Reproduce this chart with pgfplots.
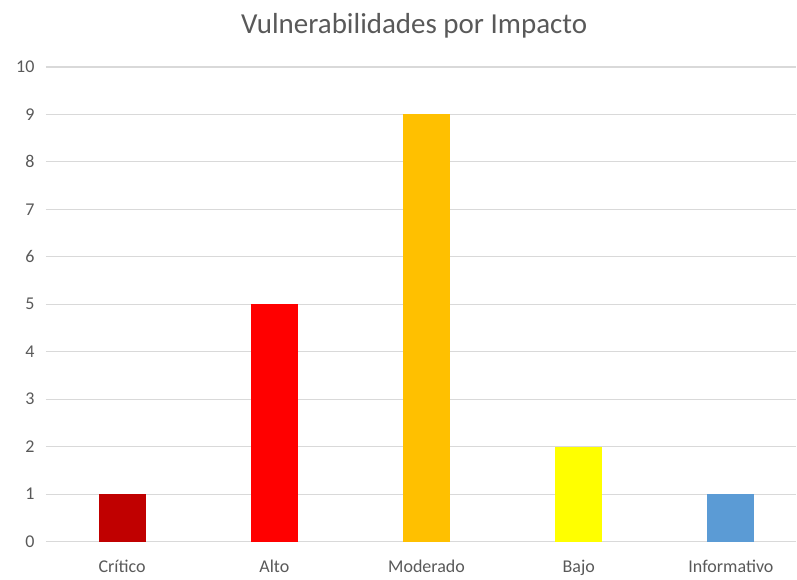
\documentclass[border=0pt]{standalone}
\usepackage{pgfplots}
\pgfplotsset{compat=1.18}
\usepackage{fontspec}
\setmainfont{Carlito}
\definecolor{txt}{HTML}{595959}
\definecolor{gridc}{HTML}{D9D9D9}
\definecolor{c1}{HTML}{C00000}
\definecolor{c2}{HTML}{FF0000}
\definecolor{c3}{HTML}{FFC000}
\definecolor{c4}{HTML}{FFFF00}
\definecolor{c5}{HTML}{5B9BD5}
\begin{document}
\begin{tikzpicture}
\begin{axis}[
  name=ax,
  scale only axis,
  width=751pt, height=475pt,
  xmin=-0.5, xmax=4.43,
  ymin=0, ymax=10,
  ytick={0,...,10},
  xtick={0,1,2,3,4},
  xticklabels={Crítico,Alto,Moderado,Bajo,Informativo},
  axis line style={draw=none},
  x axis line style={draw=gridc, line width=1.2pt},
  tick style={draw=none},
  xmajorgrids=false,
  ymajorgrids=true,
  major grid style={draw=gridc, line width=1.2pt},
  ticklabel style={font=\fontsize{18}{20}\selectfont, text=txt},
  yticklabel style={xshift=-8pt},
  xticklabel style={yshift=-11pt},
  /pgf/number format/assume math mode=true,
  ybar, bar width=47pt, bar shift=0pt,
]
\addplot[fill=c1, draw=none] coordinates {(0,1)};
\addplot[fill=c2, draw=none] coordinates {(1,5)};
\addplot[fill=c3, draw=none] coordinates {(2,9)};
\addplot[fill=c4, draw=none] coordinates {(3,2)};
\addplot[fill=c5, draw=none] coordinates {(4,1)};
\end{axis}
\path[use as bounding box] (ax.south west) ++(-46pt,-32pt) rectangle ([shift={(0pt,67pt)}]ax.north east);
\node[text=txt, font=\fontsize{29}{33}\selectfont] at ([shift={(-7pt,41pt)}]ax.north) {Vulnerabilidades por Impacto};
\end{tikzpicture}
\end{document}
